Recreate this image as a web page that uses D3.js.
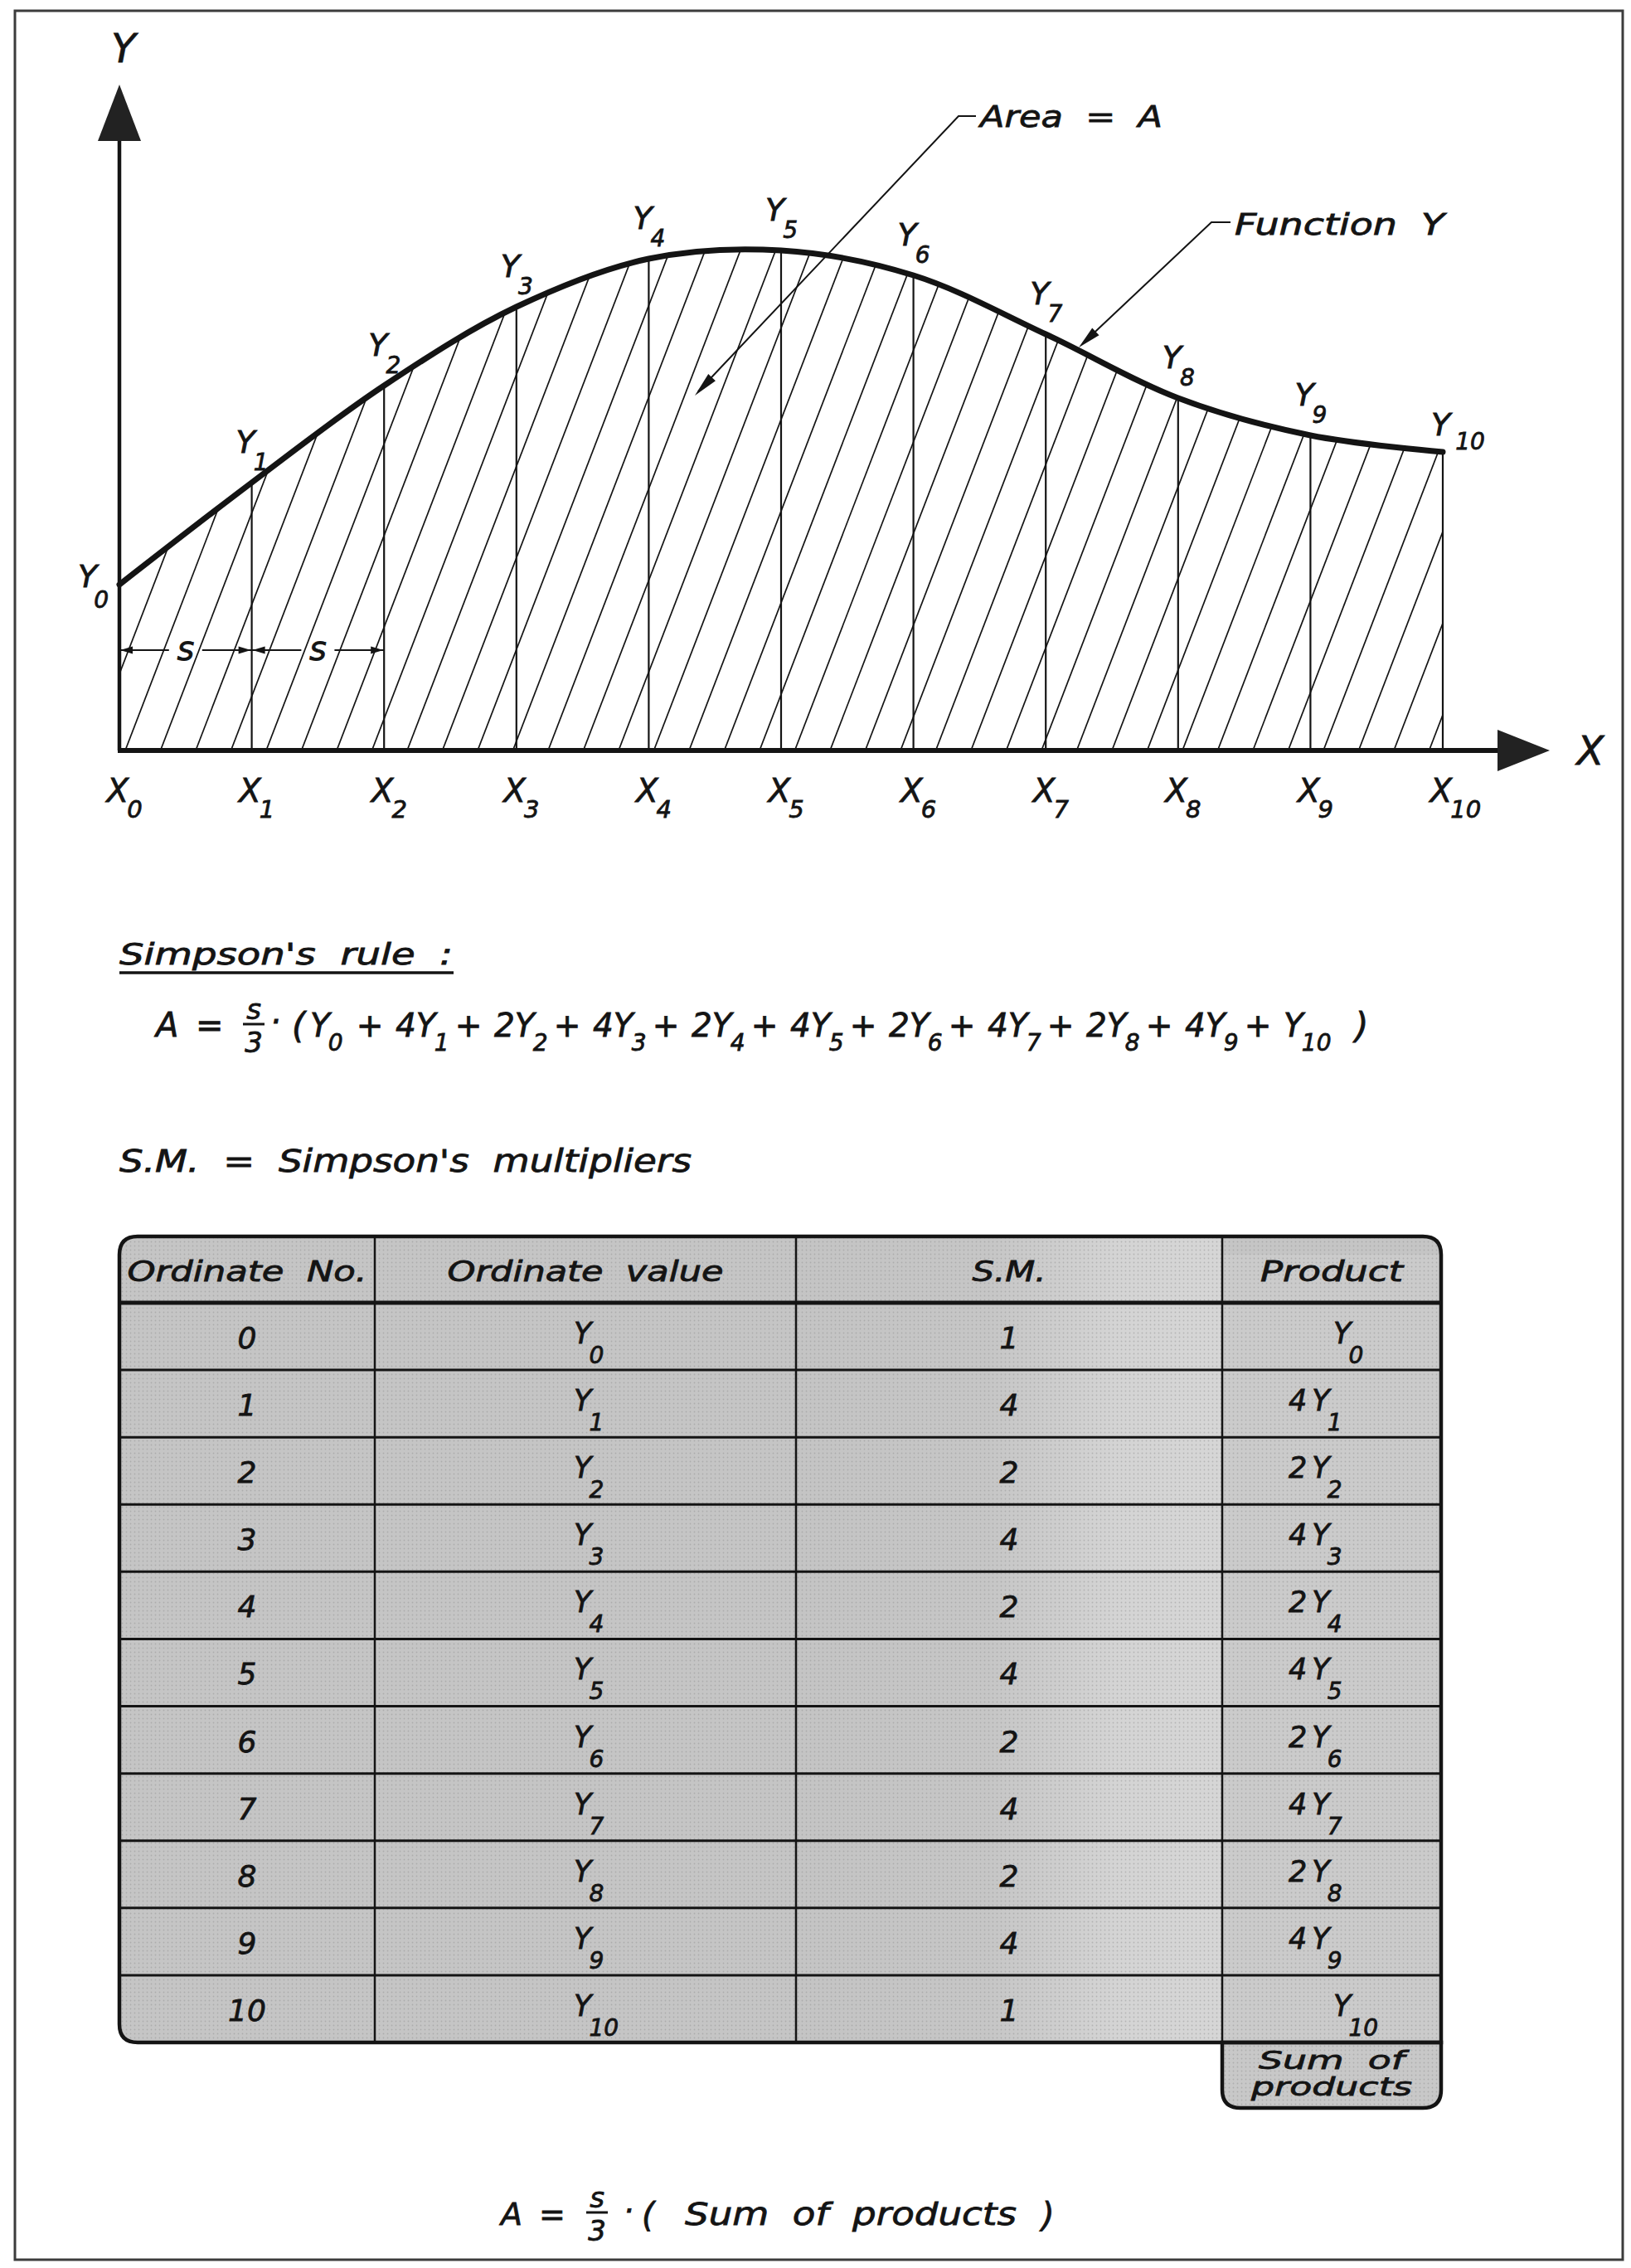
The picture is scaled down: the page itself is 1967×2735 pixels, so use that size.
<!DOCTYPE html>
<html>
<head>
<script src="https://d3js.org/d3.v7.min.js"></script>
<style>
  body { margin: 0; background: #fff; }
  svg { display: block; }
  text { font-family: 'DejaVu Sans', sans-serif; font-style: italic; fill: #141414;
         stroke: #141414; stroke-width: 0.8px; white-space: pre; }
</style>
</head>
<body>
<div id="chart"></div>
<script>
// ordinate numbers, their heights, Simpson's multipliers
const ordinates = [0, 1, 2, 3, 4, 5, 6, 7, 8, 9, 10];
const ordinateValues = [2.00, 3.23, 4.40, 5.35, 5.93, 6.03, 5.73, 5.02, 4.25, 3.80, 3.60];
const multipliers = [1, 4, 2, 4, 2, 4, 2, 4, 2, 4, 1];
const headers = ["Ordinate  No.", "Ordinate  value", "S.M.", "Product"];

const W = 1967, H = 2735;
const ink = "#141414";

const svg = d3.select("#chart").append("svg")
    .attr("width", W).attr("height", H);
const defs = svg.append("defs");

// outer frame
svg.append("rect")
    .attr("x", 18).attr("y", 13).attr("width", 1939).attr("height", 2712)
    .attr("fill", "none").attr("stroke", "#3c3c3c").attr("stroke-width", 3);

// stretched text helper: width
function wideText(parent, px, py, size, len, str, anchor) {
    return parent.append("text").attr("x", px).attr("y", py).attr("font-size", size)
        .attr("xml:space", "preserve")
        .attr("text-anchor", anchor || "start")
        .attr("textLength", len).attr("lengthAdjust", "spacingAndGlyphs").text(str);
}

// ---------- graph ----------
const x = d3.scaleLinear().domain([0, 10]).range([144, 1740]);
const y = d3.scaleLinear().domain([0, 8]).range([905, 105]);
const pts = ordinates.map((d, i) => [d, ordinateValues[i]]);

const curve = d3.line().x(d => x(d[0])).y(d => y(d[1])).curve(d3.curveCatmullRom);
const area = d3.area().x(d => x(d[0])).y0(y(0)).y1(d => y(d[1])).curve(d3.curveCatmullRom);

defs.append("clipPath").attr("id", "under")
    .append("path").attr("d", area(pts));

// hatching of the area
const slope = 2.6, step = 42.5, hatchStart = 151;
const span = y(0) - y(8);
svg.append("g").attr("clip-path", "url(#under)")
    .selectAll("line").data(d3.range(-20, 40)).join("line")
    .attr("x1", k => hatchStart + k * step).attr("y1", y(0))
    .attr("x2", k => hatchStart + k * step + span / slope).attr("y2", y(8))
    .attr("stroke", ink).attr("stroke-width", 1.7);

// ordinates
svg.append("g").selectAll("line").data(pts).join("line")
    .attr("x1", d => x(d[0])).attr("x2", d => x(d[0]))
    .attr("y1", y(0)).attr("y2", d => y(d[1]))
    .attr("stroke", ink).attr("stroke-width", 2.2);

// function curve
svg.append("path").attr("d", curve(pts))
    .attr("fill", "none").attr("stroke", ink).attr("stroke-width", 7)
    .attr("stroke-linecap", "round");

// Y axis
svg.append("line")
    .attr("x1", x(0)).attr("x2", x(0)).attr("y1", y(0)).attr("y2", 168)
    .attr("stroke", ink).attr("stroke-width", 4.5);
svg.append("path")
    .attr("d", `M${x(0)},102 L${x(0) - 26},170 L${x(0) + 26},170 Z`)
    .attr("fill", "#222");
svg.append("text").attr("x", x(0) + 5).attr("y", 75)
    .attr("text-anchor", "middle").attr("font-size", 48).text("Y");

// X axis with ordinate tick labels
const xAxis = svg.append("g")
    .attr("transform", `translate(0,${y(0)})`)
    .call(d3.axisBottom(x).tickValues(ordinates).tickSize(0).tickFormat(""));
xAxis.select(".domain").remove();
xAxis.selectAll(".tick text").each(function (d) {
    const t = d3.select(this);
    t.attr("x", -16).attr("y", 62).attr("dy", null)
        .attr("text-anchor", "start").attr("font-size", 39)
        .attr("fill", ink).attr("font-family", "DejaVu Sans");
    t.append("tspan").text("X");
    t.append("tspan").attr("dx", -2).attr("dy", 19).attr("font-size", 29).text(d);
});
svg.append("line")
    .attr("x1", x(0) - 2).attr("x2", 1810).attr("y1", y(0)).attr("y2", y(0))
    .attr("stroke", ink).attr("stroke-width", 6);
svg.append("path")
    .attr("d", `M1869,${y(0)} L1806,${y(0) - 25} L1806,${y(0) + 25} Z`)
    .attr("fill", "#222");
svg.append("text").attr("x", 1918).attr("y", 922)
    .attr("text-anchor", "middle").attr("font-size", 48).text("X");

// ordinate labels Y0..Y10
function subText(parent, px, py, main, sub, size, subSize, subDx, subDy) {
    const t = parent.append("text").attr("x", px).attr("y", py).attr("font-size", size);
    t.append("tspan").text(main);
    t.append("tspan").attr("dx", subDx).attr("dy", subDy).attr("font-size", subSize).text(sub);
    return t;
}
const yLabels = svg.append("g");
pts.forEach(d => {
    const i = d[0], px = x(i), py = y(d[1]);
    if (i === 0) subText(yLabels, px - 50, py + 3, "Y", i, 38, 28, -4, 25);
    else if (i === 10) subText(yLabels, px - 14, py - 20, "Y", i, 38, 28, 6, 17);
    else subText(yLabels, px - 19, py - 36, "Y", i, 38, 28, -2, 21);
});

// spacing dimension s
const dimY = 784;
function arrowHead(tx, ty, fx, fy, len, half) {
    const a = Math.atan2(ty - fy, tx - fx);
    const bx = tx - len * Math.cos(a), by = ty - len * Math.sin(a);
    const nx = -Math.sin(a) * half, ny = Math.cos(a) * half;
    return `M${tx},${ty} L${bx + nx},${by + ny} L${bx - nx},${by - ny} Z`;
}
const dim = svg.append("g");
[[0, 1], [1, 2]].forEach(([a, b]) => {
    const xa = x(a), xb = x(b), mid = (xa + xb) / 2;
    dim.append("line").attr("x1", xa).attr("x2", mid - 20).attr("y1", dimY).attr("y2", dimY)
        .attr("stroke", ink).attr("stroke-width", 2);
    dim.append("line").attr("x1", mid + 20).attr("x2", xb).attr("y1", dimY).attr("y2", dimY)
        .attr("stroke", ink).attr("stroke-width", 2);
    dim.append("path").attr("d", arrowHead(xa + 1, dimY, xa + 20, dimY, 15, 4.5)).attr("fill", ink);
    dim.append("path").attr("d", arrowHead(xb - 1, dimY, xb - 20, dimY, 15, 4.5)).attr("fill", ink);
    dim.append("text").attr("x", mid).attr("y", dimY + 12)
        .attr("text-anchor", "middle").attr("font-size", 40).text("s");
});

// leaders
const lead = svg.append("g");
lead.append("path").attr("d", "M1177,140 L1156,140 L842,472")
    .attr("fill", "none").attr("stroke", ink).attr("stroke-width", 2);
lead.append("path").attr("d", arrowHead(838, 477, 1156, 140, 30, 6)).attr("fill", ink);
wideText(lead, 1182, 153, 35, 220, "Area  =  A");

lead.append("path").attr("d", "M1484,268 L1461,268 L1306,414")
    .attr("fill", "none").attr("stroke", ink).attr("stroke-width", 2);
lead.append("path").attr("d", arrowHead(1301, 419, 1461, 268, 28, 6)).attr("fill", ink);
wideText(lead, 1489, 283, 35, 253, "Function  Y");

// ---------- Simpson's rule ----------
wideText(svg, 144, 1163, 36, 402, "Simpson's  rule  :");
svg.append("line").attr("x1", 144).attr("x2", 547).attr("y1", 1173).attr("y2", 1173)
    .attr("stroke", ink).attr("stroke-width", 3.5);

function fraction(parent, cx, base, size) {
    parent.append("text").attr("x", cx).attr("y", base - 21).attr("text-anchor", "middle")
        .attr("font-size", size).text("s");
    parent.append("line").attr("x1", cx - 13).attr("x2", cx + 13)
        .attr("y1", base - 15).attr("y2", base - 15).attr("stroke", ink).attr("stroke-width", 3);
    parent.append("text").attr("x", cx).attr("y", base + 19).attr("text-anchor", "middle")
        .attr("font-size", size).text("3");
}

const f1 = svg.append("g");
const fBase = 1250;
f1.append("text").attr("x", 188).attr("y", fBase).attr("font-size", 40).text("A");
f1.append("text").attr("x", 236).attr("y", fBase).attr("font-size", 40).text("=");
fraction(f1, 306, fBase, 34);
f1.append("text").attr("x", 332).attr("y", fBase - 4).attr("text-anchor", "middle").attr("font-size", 40).text("·");
f1.append("text").attr("x", 352).attr("y", fBase + 2).attr("font-size", 42).text("(");
// term starts: Y0 sits right after the bracket, the rest are evenly spaced
const termStart = d3.scaleLinear().domain([1, 10]).range([477, 1548]);
const termX = i => (i === 0 ? 374 : termStart(i));
ordinates.forEach((i, k) => {
    const coef = multipliers[k] === 1 ? "" : String(multipliers[k]);
    const t = f1.append("text").attr("x", termX(i)).attr("y", fBase).attr("font-size", 39);
    t.append("tspan").text(coef + "Y");
    t.append("tspan").attr("dx", -2).attr("dy", 17).attr("font-size", 28).text(i);
    if (k > 0) {
        f1.append("text").attr("x", termX(i) - 31).attr("y", fBase)
            .attr("text-anchor", "middle").attr("font-size", 39).text("+");
    }
});
f1.append("text").attr("x", 1634).attr("y", fBase + 2).attr("font-size", 42).text(")");

wideText(svg, 144, 1413, 37, 690, "S.M.  =  Simpson's  multipliers");

// ---------- table ----------
const colEdges = [144, 452, 960, 1474, 1738];
const tTop = 1491, hBottom = 1571, tBottom = 2463, sumBottom = 2542, r = 22;
const rows = d3.scaleBand().domain(ordinates).range([hBottom, tBottom]);
const L = colEdges[0], R = colEdges[4], P = colEdges[3];

const tableShape = `M${L},${tTop + r} Q${L},${tTop} ${L + r},${tTop} L${R - r},${tTop} Q${R},${tTop} ${R},${tTop + r}
  L${R},${tBottom} L${L + r},${tBottom} Q${L},${tBottom} ${L},${tBottom - r} Z`;
const sumShape = `M${P},${tBottom} L${P},${sumBottom - r} Q${P},${sumBottom} ${P + r},${sumBottom}
  L${R - r},${sumBottom} Q${R},${sumBottom} ${R},${sumBottom - r} L${R},${tBottom} Z`;

const grad = defs.append("linearGradient").attr("id", "smShade")
    .attr("x1", "0%").attr("x2", "100%").attr("y1", "0%").attr("y2", "0%");
grad.append("stop").attr("offset", "0%").attr("stop-color", "#c4c4c4");
grad.append("stop").attr("offset", "45%").attr("stop-color", "#c6c6c6");
grad.append("stop").attr("offset", "75%").attr("stop-color", "#d4d4d4");
grad.append("stop").attr("offset", "100%").attr("stop-color", "#d6d6d6");

const dots = defs.append("pattern").attr("id", "dots")
    .attr("width", 5).attr("height", 5).attr("patternUnits", "userSpaceOnUse");
dots.append("circle").attr("cx", 2.5).attr("cy", 2.5).attr("r", 0.9).attr("fill", "#8f8f8f").attr("opacity", 0.45);

const table = svg.append("g");
table.append("path").attr("d", tableShape).attr("fill", "#c5c5c5");
table.append("path").attr("d", sumShape).attr("fill", "#c8c8c8");
table.append("rect").attr("x", colEdges[2]).attr("y", tTop + 2)
    .attr("width", colEdges[3] - colEdges[2]).attr("height", tBottom - tTop - 2)
    .attr("fill", "url(#smShade)");
table.append("rect").attr("x", colEdges[3]).attr("y", tTop + r)
    .attr("width", colEdges[4] - colEdges[3]).attr("height", tBottom - tTop - r)
    .attr("fill", "#cbcbcb");
table.append("path").attr("d", tableShape).attr("fill", "url(#dots)");
table.append("path").attr("d", sumShape).attr("fill", "url(#dots)");

// row and column rules
table.selectAll(".rowline").data(ordinates.slice(0, -1)).join("line")
    .attr("x1", L).attr("x2", R)
    .attr("y1", d => rows(d) + rows.bandwidth()).attr("y2", d => rows(d) + rows.bandwidth())
    .attr("stroke", ink).attr("stroke-width", 3);
table.append("line").attr("x1", L).attr("x2", R).attr("y1", hBottom).attr("y2", hBottom)
    .attr("stroke", ink).attr("stroke-width", 5);
table.selectAll(".colline").data(colEdges.slice(1, 4)).join("line")
    .attr("x1", d => d).attr("x2", d => d).attr("y1", tTop).attr("y2", tBottom)
    .attr("stroke", ink).attr("stroke-width", 2.5);
table.append("path").attr("d", tableShape).attr("fill", "none")
    .attr("stroke", ink).attr("stroke-width", 4.5);
table.append("path").attr("d", sumShape).attr("fill", "none")
    .attr("stroke", ink).attr("stroke-width", 4.5);

// header
const colCenter = i => (colEdges[i] + colEdges[i + 1]) / 2;
const headLen = [289, 333, 89, 172];
headers.forEach((h, i) => {
    wideText(table, colCenter(i), 1545, 33, headLen[i], h, "middle");
});

// body cells
ordinates.forEach((i, k) => {
    const top = rows(i);
    table.append("text").attr("x", colCenter(0)).attr("y", top + 55)
        .attr("text-anchor", "middle").attr("font-size", 36).text(i);
    subText(table, colCenter(1) - 14, top + 49, "Y", i, 35, 28, -3, 24);
    table.append("text").attr("x", colCenter(2)).attr("y", top + 55)
        .attr("text-anchor", "middle").attr("font-size", 36).text(multipliers[k]);
    if (multipliers[k] === 1) {
        subText(table, 1608, top + 49, "Y", i, 35, 28, -3, 24);
    } else {
        const t = table.append("text").attr("x", 1554).attr("y", top + 49).attr("font-size", 35);
        t.append("tspan").text(multipliers[k]);
        t.append("tspan").attr("dx", 6).text("Y");
        t.append("tspan").attr("dx", -3).attr("dy", 24).attr("font-size", 28).text(i);
    }
});

// sum of products (one text, two lines)
const sumText = table.append("text").attr("font-size", 31).attr("text-anchor", "middle")
    .attr("xml:space", "preserve");
sumText.append("tspan").attr("x", colCenter(3)).attr("y", 2495)
    .attr("textLength", 176).attr("lengthAdjust", "spacingAndGlyphs").text("Sum  of");
sumText.append("tspan").attr("x", colCenter(3)).attr("y", 2527)
    .attr("textLength", 194).attr("lengthAdjust", "spacingAndGlyphs").text("products");

// ---------- final formula ----------
const f2 = svg.append("g");
const gBase = 2683;
f2.append("text").attr("x", 604).attr("y", gBase).attr("font-size", 38).text("A");
f2.append("text").attr("x", 650).attr("y", gBase).attr("font-size", 38).text("=");
fraction(f2, 720, gBase, 34);
f2.append("text").attr("x", 758).attr("y", gBase - 4).attr("text-anchor", "middle").attr("font-size", 38).text("·");
f2.append("text").attr("x", 774).attr("y", gBase + 2).attr("font-size", 40).text("(");
wideText(f2, 826, gBase, 38, 400, "Sum  of  products");
f2.append("text").attr("x", 1256).attr("y", gBase + 2).attr("font-size", 40).text(")");
</script>
</body>
</html>
